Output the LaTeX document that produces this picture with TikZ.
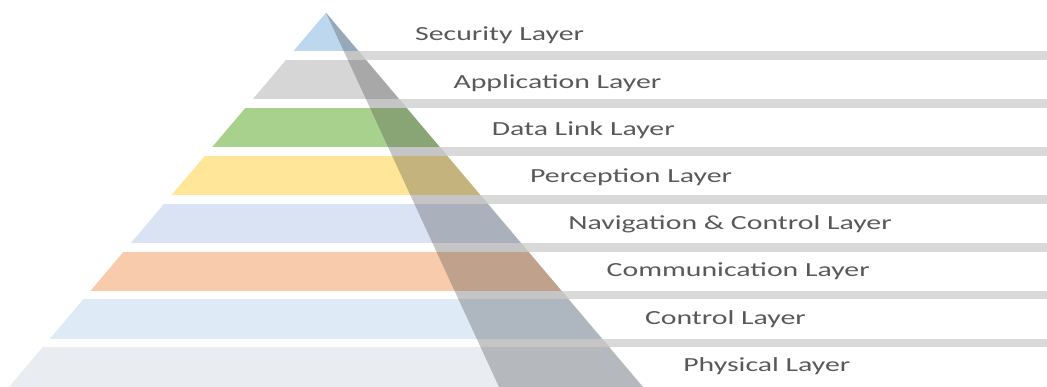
\documentclass[tikz,border=0pt]{standalone}
\usepackage{fontspec}
\setmainfont{Carlito}
\usepackage{tikz}

\definecolor{secblue}{HTML}{BDD7EE}
\definecolor{appgray}{HTML}{D6D6D6}
\definecolor{linkgreen}{HTML}{A9D18E}
\definecolor{percyellow}{HTML}{FFE699}
\definecolor{navblue}{HTML}{DAE3F3}
\definecolor{commorange}{HTML}{F8CBAD}
\definecolor{ctrlblue}{HTML}{DEEBF7}
\definecolor{physgray}{HTML}{E9EDF2}
\definecolor{stripgray}{HTML}{D9D9D9}
\definecolor{labelgray}{HTML}{595959}
\definecolor{shadegray}{HTML}{404040}

\newcommand{\widelabel}[1]{\scalebox{1.49}[1]{#1}}

\begin{document}
\begin{tikzpicture}[x=1pt,y=-1pt,
   layer/.style={font=\fontsize{20}{24}\selectfont,text=labelgray,
                 anchor=base west,inner sep=0pt},
   shade/.style={fill=shadegray,fill opacity=0.3}]
   \useasboundingbox (0,0) rectangle (1047,387);
   \coordinate (apex)   at (326,12.7);
   \coordinate (baseL)  at (9,387);
   \coordinate (baseR)  at (643,387);
   \coordinate (shadeL) at (499,387);

   % coloured bands of the pyramid
   \begin{scope}
      \clip (apex) -- (baseL) -- (baseR) -- cycle;
      \foreach \c [count=\i from 0] in
         {secblue,appgray,linkgreen,percyellow,navblue,commorange,ctrlblue,physgray}
         \fill[\c] (0,{12.1+47.9*\i}) rectangle (700,{51.2+47.9*\i+(\i==7)*5});
   \end{scope}

   % grey strips under the labels
   \begin{scope}
      \clip (apex) -- (baseR) -- (1047,387) -- (1047,12.7) -- cycle;
      \foreach \i in {0,...,6}
         \fill[stripgray] (320,{51.2+47.9*\i}) rectangle (1047,{60+47.9*\i});
   \end{scope}

   \fill[shade] (apex) -- (shadeL) -- (baseR) -- cycle;

   \foreach \t/\n [count=\i from 0] in
      {Security Layer/sec,Application Layer/app,Data Link Layer/link,
       Perception Layer/perc,Navigation \& Control Layer/nav,
       Communication Layer/comm,Control Layer/ctrl,Physical Layer/phys}
      \node[layer] (\n) at ({415+38.3*\i},{41+47.2*\i}) {\widelabel{\t}};
\end{tikzpicture}
\end{document}
